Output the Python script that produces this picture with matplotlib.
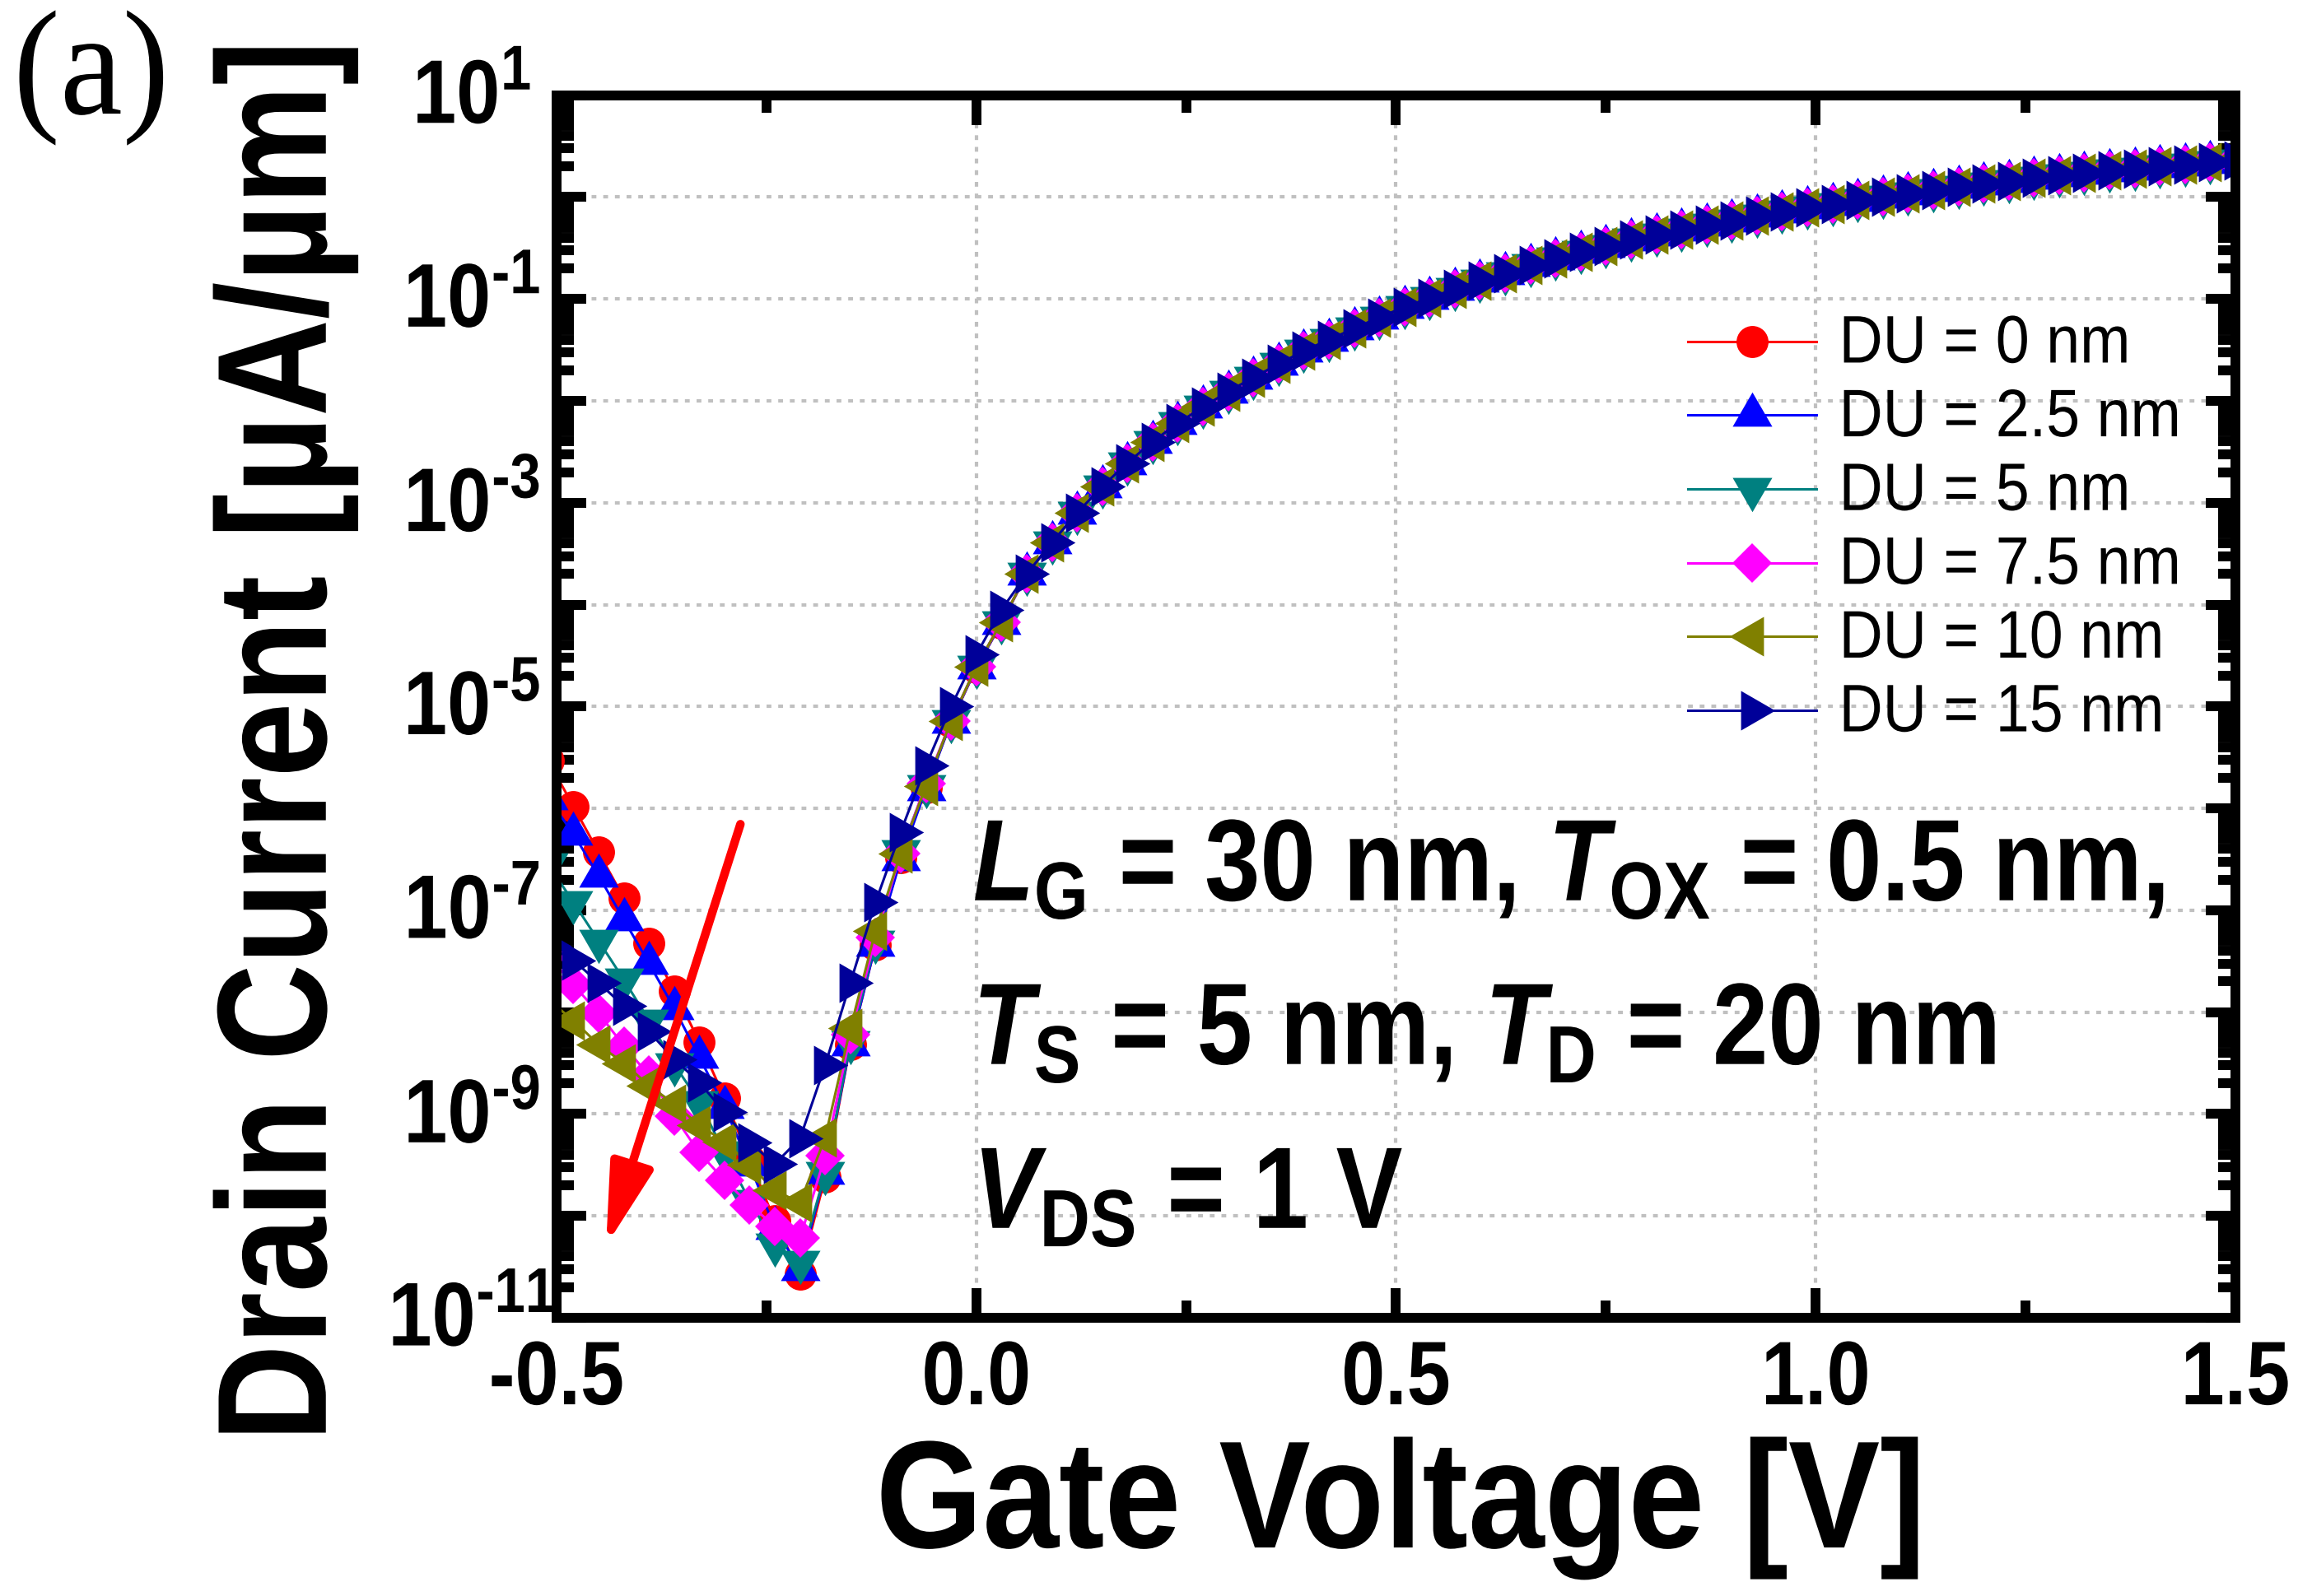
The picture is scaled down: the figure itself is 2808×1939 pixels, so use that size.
"""
Drain current vs gate voltage (log scale) for several DU values.
Redrawn from the published figure, panel (a).
"""

import numpy as np
import matplotlib
matplotlib.use('Agg')
import matplotlib.pyplot as plt
from matplotlib.path import Path
from matplotlib.transforms import Affine2D
from matplotlib.patheffects import AbstractPathEffect
from matplotlib.ticker import LogLocator, MultipleLocator, NullFormatter

# ── Data ──────────────────────────────────────────────────────────────────────
# Gate voltage sweep [V]. The first point lies just left of the axis (clipped).
vg_sub = [-0.51, -0.48, -0.45, -0.42, -0.39, -0.36, -0.33, -0.30, -0.27, -0.24,
          -0.21, -0.18, -0.15, -0.12, -0.09, -0.06, -0.03, 0.00, 0.03]
vg_on = [0.06, 0.09, 0.12, 0.15, 0.18, 0.21, 0.24, 0.27, 0.30, 0.33, 0.36, 0.39,
         0.42, 0.45, 0.48, 0.51, 0.54, 0.57, 0.60, 0.63, 0.66, 0.69, 0.72, 0.75,
         0.78, 0.81, 0.84, 0.87, 0.90, 0.93, 0.96, 0.99, 1.02, 1.05, 1.08, 1.11,
         1.14, 1.17, 1.20, 1.23, 1.26, 1.29, 1.32, 1.35, 1.38, 1.41, 1.44, 1.47, 1.50]

# log10 of drain current [uA/um], sub-threshold part (one value per vg_sub)
log_du0 = [-5.53, -5.98, -6.43, -6.88, -7.32, -7.79, -8.29, -8.84, -9.45, -10.05,
           -10.57, -9.62, -8.32, -7.34, -6.48, -5.80, -5.15, -4.62, -4.18]
log_du25 = [-5.90, -6.25, -6.66, -7.09, -7.52, -7.96, -8.44, -8.93, -9.50, -10.12,
            -10.52, -9.58, -8.32, -7.34, -6.50, -5.81, -5.15, -4.62, -4.18]
log_du5 = [-6.55, -6.92, -7.30, -7.68, -8.08, -8.51, -8.88, -9.38, -9.85, -10.28,
           -10.45, -9.58, -8.29, -7.31, -6.42, -5.78, -5.14, -4.61, -4.17]
log_du75 = [-7.44, -7.73, -8.01, -8.33, -8.62, -9.02, -9.38, -9.65, -9.89, -10.10,
            -10.22, -9.41, -8.22, -7.27, -6.44, -5.76, -5.14, -4.61, -4.17]
log_du10 = [-7.88, -8.08, -8.32, -8.50, -8.72, -8.90, -9.11, -9.27, -9.50, -9.75,
            -9.87, -9.23, -8.16, -7.20, -6.44, -5.78, -5.14, -4.61, -4.17]
log_du15 = [-7.35, -7.49, -7.71, -7.94, -8.19, -8.46, -8.69, -8.98, -9.28, -9.49,
            -9.24, -8.52, -7.71, -6.92, -6.23, -5.58, -5.00, -4.49, -4.05]

# on-state part, the six curves lie on top of each other (one value per vg_on)
log_on = [-3.70, -3.39, -3.10, -2.84, -2.61, -2.40, -2.22, -2.06, -1.91, -1.77, -1.64, -1.51,
          -1.40, -1.29, -1.18, -1.08, -0.99, -0.90, -0.82, -0.75, -0.67, -0.60, -0.54, -0.48,
          -0.42, -0.37, -0.32, -0.27, -0.23, -0.18, -0.14, -0.10, -0.07, -0.03, 0.00, 0.04,
          0.07, 0.10, 0.13, 0.16, 0.19, 0.21, 0.24, 0.26, 0.28, 0.30, 0.32, 0.34, 0.36]

labels = ['DU = 0 nm', 'DU = 2.5 nm', 'DU = 5 nm', 'DU = 7.5 nm', 'DU = 10 nm', 'DU = 15 nm']

x_ticks = [-0.5, 0.0, 0.5, 1.0, 1.5]
x_tick_labels = ['-0.5', '0.0', '0.5', '1.0', '1.5']
y_ticks = [1e-11, 1e-10, 1e-9, 1e-8, 1e-7, 1e-6, 1e-5, 1e-4, 1e-3, 1e-2, 1e-1, 1e0, 1e1]
y_tick_labels = [r'$\mathregular{10^{\text{-}11}}$', '', r'$\mathregular{10^{\text{-}9}}$', '',
                 r'$\mathregular{10^{\text{-}7}}$', '', r'$\mathregular{10^{\text{-}5}}$', '',
                 r'$\mathregular{10^{\text{-}3}}$', '', r'$\mathregular{10^{\text{-}1}}$', '',
                 r'$\mathregular{10^{1}}$']

# red arrow (tail, head) in data coordinates
arrow_tail = (-0.281, 10 ** -6.155)
arrow_head = (-0.441, 10 ** -10.29)

# ── Estilo ────────────────────────────────────────────────────────────────────
plt.rcParams['font.family'] = ['Liberation Sans', 'DejaVu Sans']
plt.rcParams['mathtext.fontset'] = 'custom'
plt.rcParams['mathtext.rm'] = 'Liberation Sans:bold'
plt.rcParams['mathtext.it'] = 'Liberation Sans:bold:italic'
plt.rcParams['mathtext.bf'] = 'Liberation Sans:bold'


class Stretch(AbstractPathEffect):
    """Draws glyphs taller than their width, like the condensed Arial of the original."""

    def __init__(self, sy):
        super().__init__()
        self.sy = sy

    def draw_path(self, renderer, gc, tpath, affine, rgbFace=None):
        renderer.draw_path(gc, tpath, Affine2D().scale(1, self.sy) + affine, rgbFace)


def triangle(angle):
    # equilateral triangle centred on its centroid, like Origin draws it
    a = np.deg2rad([angle, angle + 120, angle + 240, angle])
    verts = np.column_stack([np.cos(a), np.sin(a)])
    return Path(verts, [Path.MOVETO, Path.LINETO, Path.LINETO, Path.CLOSEPOLY])


colors = ['#FF0000', '#0000FF', '#008080', '#FF00FF', '#808000', '#000099']
markers = ['o', triangle(90), triangle(-90), 'D', triangle(180), triangle(0)]
sizes = [28, 40, 40, 24, 40, 40]
sub_logs = [log_du0, log_du25, log_du5, log_du75, log_du10, log_du15]

# ── Figure ────────────────────────────────────────────────────────────────────
fig = plt.figure(figsize=(28.08, 19.39), dpi=100)
ax = fig.add_axes([0.24074, 0.17432, 0.72614, 0.76601])

vg = vg_sub + vg_on
for lab, logs, col, mk, ms in zip(labels, sub_logs, colors, markers, sizes):
    ax.plot(vg, 10 ** np.array(logs + log_on), color=col, lw=2.2,
            marker=mk, ms=ms, mew=0, label=lab)

ax.set_xlim(-0.5, 1.5)
ax.set_yscale('log')
ax.set_ylim(1e-11, 1e1)
ax.set_xticks(x_ticks, x_tick_labels)
ax.set_yticks(y_ticks, y_tick_labels)
ax.xaxis.set_minor_locator(MultipleLocator(0.25))
ax.yaxis.set_minor_locator(LogLocator(base=10, subs=np.arange(2, 10), numticks=100))
ax.yaxis.set_minor_formatter(NullFormatter())

ax.tick_params(which='both', direction='in', top=True, right=True, width=8.6,
               labelsize=68.7, colors='black')
ax.tick_params(which='major', length=26)
ax.tick_params(which='minor', length=15)
ax.tick_params(axis='x', pad=26)
ax.tick_params(axis='y', pad=74)
for s in ax.spines.values():
    s.set_linewidth(8.6)

for t in ax.get_xticklabels():
    t.set_fontweight('bold')
    t.set_path_effects([Stretch(1.15)])
for t in ax.get_yticklabels():
    t.set_fontweight('bold')
    t.set_horizontalalignment('center')   # Origin centres the labels
    t.set_path_effects([Stretch(1.15)])

ax.grid(True, which='major', color='#C0C0C0', lw=3, linestyle=(0, (1.4, 2.0)))
ax.set_axisbelow(True)

leg = ax.legend(loc='upper left', bbox_to_anchor=(0.674, 0.8177), frameon=False,
                prop={'family': 'Liberation Sans', 'size': 53}, handlelength=2.12,
                handletextpad=0.37, labelspacing=0.28, borderpad=0, borderaxespad=0,
                numpoints=1)
for t in leg.get_texts():
    t.set_path_effects([Stretch(1.11)])

ax.annotate('', xy=arrow_head, xytext=arrow_tail, zorder=10,
            arrowprops=dict(arrowstyle='-|>,head_length=0.6,head_width=0.16',
                            mutation_scale=100, color='red', lw=7.5,
                            shrinkA=0, shrinkB=0))

# ── Textos ────────────────────────────────────────────────────────────────────
txt = dict(weight='bold', size=87.2, ha='left', va='baseline',
           path_effects=[Stretch(1.163)])
fig.text(0.4209, 0.4358, r'$\mathit{L}_\mathregular{G}$ = 30 nm, $\mathit{T}_\mathregular{OX}$ = 0.5 nm,', **txt)
fig.text(0.4209, 0.3332, r'$\mathit{T}_\mathregular{S}$ = 5 nm, $\mathit{T}_\mathregular{D}$ = 20 nm', **txt)
fig.text(0.4209, 0.2305, r'$\mathit{V}_\mathregular{DS}$ = 1 V', **txt)

fig.text(0.6058, 0.0304, 'Gate Voltage [V]', weight='bold', size=120,
         ha='center', va='baseline', path_effects=[Stretch(1.114)])
fig.text(0.1258, 0.5358, 'Drain Current [µA/µm]', weight='bold', size=117.5,
         rotation=90, ha='center', va='center', path_effects=[Stretch(1.16)])
fig.text(0.0057, 0.9288, '(a)', family=['Liberation Serif', 'DejaVu Serif'], size=123,
         ha='left', va='baseline', path_effects=[Stretch(1.06)])

fig.savefig('out.png', dpi=100)
